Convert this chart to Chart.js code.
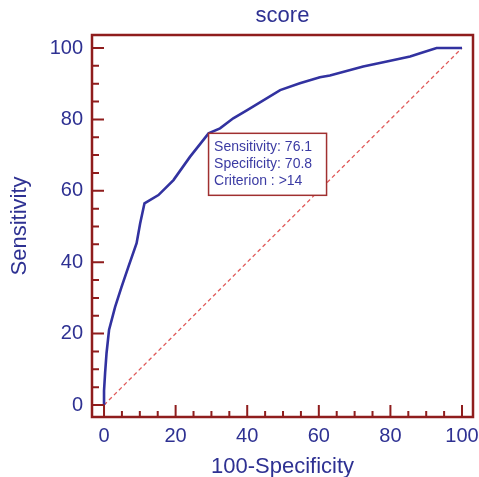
<!DOCTYPE html>
<html><head><meta charset="utf-8">
<script src="https://cdn.jsdelivr.net/npm/chart.js@4.4.1/dist/chart.umd.min.js"></script>
<style>html,body{margin:0;padding:0;background:#fff}#wrap{width:479px;height:477px;position:relative}</style>
</head><body><div id="wrap"><canvas id="c"></canvas></div>
<script>
// ROC curve: 100-Specificity (x) vs Sensitivity (y)
const fpr = [0, 0, 0.3, 0.7, 1.4, 3.1, 4.9, 6.8, 9.1, 10.1, 11.3, 15.2, 19.4, 24.0, 29.2, 32.4, 36.1, 40.0, 49.2, 54.7, 60.3, 63.1, 72.4, 79.0, 85.5, 88.3, 92.9, 100];
const tpr = [0, 4, 9, 14.5, 21, 27.5, 33.1, 38.7, 45.3, 50.9, 56.5, 58.8, 63, 69.5, 76.1, 77.5, 80.3, 82.6, 88.2, 90.1, 91.8, 92.3, 94.8, 96.2, 97.6, 98.5, 100, 100];
const diagX = [0, 100];
const diagY = [0, 100];
const xTicks = [0, 20, 40, 60, 80, 100];
const yTicks = [0, 20, 40, 60, 80, 100];
const minorTicks = [5, 10, 15, 25, 30, 35, 45, 50, 55, 65, 70, 75, 85, 90, 95];
const critSens = 76.1;
const critSpec = 70.8;
const critLabel = '>14';

const NAVY = '#2e3192';
const FRAME = '#8f1d1d';
const FONT = "'Liberation Sans', Arial, sans-serif";

const framePlugin = {
  id: 'frame',
  afterDatasetsDraw(chart) {
    const {ctx, chartArea: a, scales: {x, y}} = chart;
    ctx.save();
    ctx.strokeStyle = FRAME;
    ctx.lineWidth = 2;
    ctx.beginPath();
    xTicks.forEach(v => { const p = x.getPixelForValue(v); ctx.moveTo(p, a.bottom); ctx.lineTo(p, a.bottom - 12); });
    minorTicks.forEach(v => { const p = x.getPixelForValue(v); ctx.moveTo(p, a.bottom); ctx.lineTo(p, a.bottom - 6); });
    yTicks.forEach(v => { const p = y.getPixelForValue(v); ctx.moveTo(a.left, p); ctx.lineTo(a.left + 12, p); });
    minorTicks.forEach(v => { const p = y.getPixelForValue(v); ctx.moveTo(a.left, p); ctx.lineTo(a.left + 7, p); });
    ctx.stroke();
    ctx.lineWidth = 2.5;
    ctx.strokeRect(a.left, a.top, a.right - a.left, a.bottom - a.top);
    // criterion annotation
    const px = x.getPixelForValue(100 - critSpec);
    const py = y.getPixelForValue(critSens);
    ctx.fillStyle = '#ffffff';
    ctx.fillRect(px, py, 118, 62);
    ctx.strokeStyle = '#a03030';
    ctx.lineWidth = 1.5;
    ctx.strokeRect(px, py, 118, 62);
    ctx.fillStyle = '#3b3ba3';
    ctx.font = "14px " + FONT;
    ctx.textAlign = 'left';
    ctx.textBaseline = 'alphabetic';
    ctx.fillText('Sensitivity: ' + critSens.toFixed(1), px + 5.5, py + 18);
    ctx.fillText('Specificity: ' + critSpec.toFixed(1), px + 5.5, py + 35);
    ctx.fillText('Criterion : ' + critLabel, px + 5.5, py + 52);
    ctx.restore();
  }
};

new Chart(document.getElementById('c'), {
  type: 'line',
  data: {
    datasets: [
      {
        data: fpr.map((v, i) => ({x: v, y: tpr[i]})),
        borderColor: '#3232a0', borderWidth: 2.6, pointRadius: 0, tension: 0, fill: false
      },
      {
        data: diagX.map((v, i) => ({x: v, y: diagY[i]})),
        borderColor: '#e05a5a', borderWidth: 1.3, borderDash: [4, 3], pointRadius: 0, fill: false
      }
    ]
  },
  options: {
    responsive: true, maintainAspectRatio: false, animation: false,
    layout: {autoPadding: false, padding: {left: 0, right: 6, top: 0, bottom: 0}},
    plugins: {
      legend: {display: false}, tooltip: {enabled: false},
      title: {display: true, fullSize: false, text: 'score', color: NAVY,
        font: {family: FONT, size: 22, weight: 'normal', lineHeight: 1},
        padding: {top: 5, bottom: 8}}
    },
    scales: {
      x: {
        type: 'linear', min: -3.36, max: 103.07,
        afterBuildTicks: s => { s.ticks = xTicks.map(v => ({value: v})); },
        afterFit: s => { s.height = 60; s.paddingLeft = 0; s.paddingRight = 0; },
        grid: {display: false, drawTicks: false}, border: {display: false},
        ticks: {color: NAVY, padding: 7, font: {family: FONT, size: 20}, maxRotation: 0, autoSkip: false},
        title: {display: true, text: '100-Specificity', color: NAVY,
          font: {family: FONT, size: 22, lineHeight: 0.9}, padding: {top: 0, bottom: 0}}
      },
      y: {
        type: 'linear', min: -3.36, max: 103.64,
        afterBuildTicks: s => { s.ticks = yTicks.map(v => ({value: v})); },
        afterFit: s => { s.width = 92; s.paddingTop = 0; s.paddingBottom = 0; },
        grid: {display: false, drawTicks: false}, border: {display: false},
        ticks: {color: NAVY, padding: 9, font: {family: FONT, size: 20}, autoSkip: false},
        title: {display: true, text: 'Sensitivity', color: NAVY,
          font: {family: FONT, size: 22, lineHeight: 1}, padding: {top: 9, bottom: 0}}
      }
    }
  },
  plugins: [framePlugin]
});
</script>
</body></html>
